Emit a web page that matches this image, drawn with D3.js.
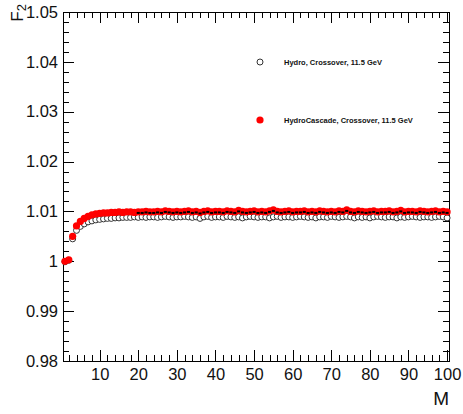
<!DOCTYPE html>
<html>
<head>
<meta charset="utf-8">
<script src="https://cdn.jsdelivr.net/npm/d3@7"></script>
<style>
  body { margin: 0; background: #fff; }
  svg text { font-family: "Liberation Sans", Arial, sans-serif; }
</style>
</head>
<body>
<div id="chart"></div>
<script>
// data: F2 vs number of bins M
const mValues = d3.range(1, 101);

const hydroCascade = [
  1.0000, 1.0003, 1.0050, 1.0071, 1.0080, 1.0086, 1.0090, 1.0093, 1.0095, 1.0096,
  1.0097, 1.0097, 1.0098, 1.0098, 1.0099, 1.0098, 1.0099, 1.0099, 1.0098, 1.0099,
  1.0099, 1.0100, 1.0099, 1.0099, 1.0100, 1.0099, 1.0101, 1.0100, 1.0099, 1.0100,
  1.0099, 1.0100, 1.0101, 1.0099, 1.0100, 1.0098, 1.0100, 1.0101, 1.0099, 1.0100,
  1.0100, 1.0099, 1.0101, 1.0100, 1.0099, 1.0102, 1.0100, 1.0099, 1.0100, 1.0101,
  1.0099, 1.0100, 1.0099, 1.0101, 1.0103, 1.0100, 1.0099, 1.0100, 1.0101, 1.0099,
  1.0100, 1.0100, 1.0101, 1.0099, 1.0100, 1.0099, 1.0101, 1.0100, 1.0099, 1.0100,
  1.0099, 1.0101, 1.0100, 1.0103, 1.0100, 1.0099, 1.0101, 1.0100, 1.0099, 1.0100,
  1.0101, 1.0099, 1.0100, 1.0100, 1.0101, 1.0099, 1.0100, 1.0102, 1.0099, 1.0100,
  1.0100, 1.0099, 1.0101, 1.0100, 1.0099, 1.0100, 1.0101, 1.0099, 1.0100, 1.0099
];

const hydro = [
  0.9999, 1.0002, 1.0045, 1.0062, 1.0070, 1.0075, 1.0079, 1.0081, 1.0083, 1.0084,
  1.0085, 1.0086, 1.0086, 1.0087, 1.0087, 1.0088, 1.0088, 1.0088, 1.0089, 1.0088,
  1.0089, 1.0088, 1.0089, 1.0089, 1.0088, 1.0089, 1.0090, 1.0089, 1.0088, 1.0089,
  1.0089, 1.0090, 1.0089, 1.0088, 1.0089, 1.0086, 1.0089, 1.0090, 1.0088, 1.0089,
  1.0089, 1.0088, 1.0090, 1.0089, 1.0088, 1.0089, 1.0087, 1.0089, 1.0090, 1.0089,
  1.0088, 1.0089, 1.0089, 1.0087, 1.0089, 1.0090, 1.0088, 1.0089, 1.0089, 1.0088,
  1.0089, 1.0090, 1.0089, 1.0088, 1.0089, 1.0087, 1.0089, 1.0089, 1.0088, 1.0090,
  1.0089, 1.0088, 1.0089, 1.0090, 1.0089, 1.0087, 1.0089, 1.0088, 1.0089, 1.0087,
  1.0089, 1.0090, 1.0089, 1.0088, 1.0089, 1.0089, 1.0087, 1.0089, 1.0088, 1.0089,
  1.0090, 1.0089, 1.0088, 1.0089, 1.0089, 1.0088, 1.0089, 1.0090, 1.0089, 1.0087
];

const yTicks = [0.98, 0.99, 1.00, 1.01, 1.02, 1.03, 1.04, 1.05];
const yTickLabels = ["0.98", "0.99", "1", "1.01", "1.02", "1.03", "1.04", "1.05"];
const xTicks = [10, 20, 30, 40, 50, 60, 70, 80, 90, 100];
const legendLabels = ["Hydro, Crossover, 11.5 GeV", "HydroCascade, Crossover, 11.5 GeV"];

// layout
const width = 463, height = 414;
const margin = { left: 63, right: 14, top: 12, bottom: 53 };
const plotW = width - margin.left - margin.right;
const plotH = height - margin.top - margin.bottom;

const svg = d3.select('#chart').append('svg')
  .attr('width', width)
  .attr('height', height);

const x = d3.scaleLinear().domain([0.5, 100.5]).range([margin.left, margin.left + plotW]);
const y = d3.scaleLinear().domain([0.98, 1.05]).range([margin.top + plotH, margin.top]);

const majorLen = 11, minorLen = 6;
const xMinor = d3.range(2, 101, 2).filter(v => v % 10 !== 0);
const yMinor = d3.range(0, 36).map(i => 0.98 + i * 0.002).filter((v, i) => i % 5 !== 0);

// axes (ticks drawn inward like ROOT)
const bottomAxis = svg.append('g').attr('transform', `translate(0,${margin.top + plotH})`);
bottomAxis.call(d3.axisBottom(x).tickValues(xTicks).tickSize(0).tickPadding(7).tickFormat(d3.format('d')));
bottomAxis.select('.domain').remove();
bottomAxis.selectAll('text').attr('font-size', 16.5).attr('fill', '#111');

const leftAxis = svg.append('g').attr('transform', `translate(${margin.left},0)`);
leftAxis.call(d3.axisLeft(y).tickValues(yTicks).tickSize(0).tickPadding(5).tickFormat((d, i) => yTickLabels[i]));
leftAxis.select('.domain').remove();
leftAxis.selectAll('text').attr('font-size', 16.5).attr('fill', '#111');

const tickG = svg.append('g').attr('stroke', '#000').attr('stroke-width', 1);
const y0 = margin.top + plotH, y1 = margin.top;
const x0 = margin.left, x1 = margin.left + plotW;

function xTick(v, len) {
  const px = Math.round(x(v)) + 0.5;
  tickG.append('line').attr('x1', px).attr('x2', px).attr('y1', y0).attr('y2', y0 - len);
  tickG.append('line').attr('x1', px).attr('x2', px).attr('y1', y1).attr('y2', y1 + len);
}
function yTick(v, len) {
  const py = Math.round(y(v)) + 0.5;
  tickG.append('line').attr('x1', x0).attr('x2', x0 + len).attr('y1', py).attr('y2', py);
  tickG.append('line').attr('x1', x1).attr('x2', x1 - len).attr('y1', py).attr('y2', py);
}
xTicks.forEach(v => xTick(v, majorLen));
xMinor.forEach(v => xTick(v, minorLen));
yTicks.forEach(v => yTick(v, majorLen));
yMinor.forEach(v => yTick(v, minorLen));

// frame
svg.append('rect')
  .attr('x', x0 + 0.5).attr('y', y1 + 0.5)
  .attr('width', plotW).attr('height', plotH)
  .attr('fill', 'none').attr('stroke', '#000').attr('stroke-width', 1);

// data
const plot = svg.append('g');

plot.selectAll('circle.hydro')
  .data(mValues)
  .join('circle')
  .attr('class', 'hydro')
  .attr('cx', m => x(m))
  .attr('cy', (m, i) => y(hydro[i]))
  .attr('r', 3)
  .attr('fill', '#fff')
  .attr('stroke', '#333')
  .attr('stroke-width', 1);

plot.selectAll('circle.cascade')
  .data(mValues)
  .join('circle')
  .attr('class', 'cascade')
  .attr('cx', m => x(m))
  .attr('cy', (m, i) => y(hydroCascade[i]))
  .attr('r', 3.6)
  .attr('fill', '#ff0000');

// small black horizontal bars on the points from M = 20 on
plot.selectAll('line.bar')
  .data(mValues.filter(m => m >= 20))
  .join('line')
  .attr('class', 'bar')
  .attr('x1', m => x(m - 0.4))
  .attr('x2', m => x(m + 0.4))
  .attr('y1', m => y(hydroCascade[m - 1]) + 1)
  .attr('y2', m => y(hydroCascade[m - 1]) + 1)
  .attr('stroke', '#000')
  .attr('stroke-width', 2);

// legend
const legend = svg.append('g');
legend.append('circle').attr('cx', 260).attr('cy', 62).attr('r', 3)
  .attr('fill', '#fff').attr('stroke', '#333');
legend.append('circle').attr('cx', 260).attr('cy', 120).attr('r', 3.6)
  .attr('fill', '#ff0000');
legend.selectAll('text')
  .data(legendLabels)
  .join('text')
  .attr('x', 284)
  .attr('y', (d, i) => i === 0 ? 65 : 123)
  .attr('font-size', 7.5)
  .attr('font-weight', 'bold')
  .attr('fill', '#111')
  .text(d => d);

// axis titles
svg.append('text')
  .attr('x', x1)
  .attr('y', 405)
  .attr('text-anchor', 'end')
  .attr('font-size', 19)
  .attr('fill', '#111')
  .text('M');

const yTitle = svg.append('text')
  .attr('transform', 'translate(23,4) rotate(-90)')
  .attr('text-anchor', 'end')
  .attr('font-size', 17)
  .attr('fill', '#111');
yTitle.append('tspan').text('F');
yTitle.append('tspan').attr('font-size', 13).attr('dy', 3).text('2');
</script>
</body>
</html>
